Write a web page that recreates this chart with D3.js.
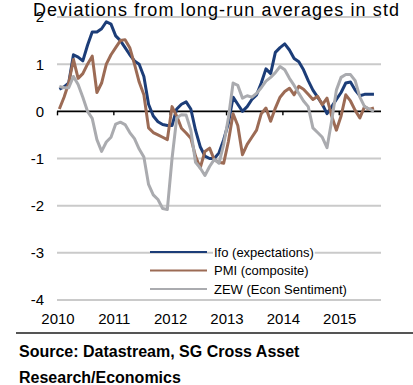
<!DOCTYPE html>
<html><head><meta charset="utf-8">
<script src="https://cdn.jsdelivr.net/npm/d3@7"></script>
<style>body{margin:0;background:#fff}svg{display:block}</style>
</head><body><div id="chart"></div>
<script>
const title = "Deviations from long-run averages in std";
const yearLabels = ["2010","2011","2012","2013","2014","2015"];
const yTicks = [2,1,0,-1,-2,-3,-4];
const seriesNames = ["Ifo (expectations)","PMI (composite)","ZEW (Econ Sentiment)"];
const seriesColors = ["#1c3d78","#9c6b55","#aaabaf"];
// monthly values, Jan 2010 .. Aug 2015
const ifo = [0.47,0.52,0.6,1.2,1.15,1.07,1.4,1.68,1.68,1.75,1.9,1.85,
  1.6,1.5,1.35,1.2,1.07,1.0,0.74,0.15,-0.1,-0.22,-0.28,-0.3,
  -0.3,0.05,0.15,0.2,0.05,-0.4,-0.75,-0.95,-1.0,-1.0,-0.88,-0.6,
  -0.25,0.3,0.15,0.0,0.1,0.25,0.35,0.6,0.9,0.8,1.25,1.35,
  1.43,1.3,1.12,1.05,0.88,0.65,0.45,0.3,0.15,-0.05,0.1,0.25,
  0.4,0.6,0.62,0.45,0.33,0.36,0.36,0.36];
const pmi = [0.05,0.3,0.6,1.1,0.7,0.8,1.0,1.17,0.4,0.6,1.0,1.2,
  1.35,1.5,1.52,1.35,1.0,0.62,0.35,-0.35,-0.45,-0.5,-0.55,-0.6,
  0.1,-0.1,-0.36,-0.46,-0.57,-0.95,-1.2,-0.85,-0.78,-1.03,-1.08,-1.1,
  -0.64,-0.05,-0.3,-0.92,-0.7,-0.55,-0.4,-0.05,0.07,-0.21,0.07,0.3,
  0.42,0.49,0.35,0.53,0.47,0.36,0.25,0.32,0.14,0.28,-0.1,-0.4,
  -0.1,0.35,0.22,0.02,-0.14,0.1,0.04,0.07];
const zew = [0.53,0.5,0.5,0.74,0.57,0.3,0.0,-0.15,-0.6,-0.85,-0.65,-0.55,
  -0.27,-0.23,-0.28,-0.45,-0.58,-0.8,-0.97,-1.55,-1.77,-1.87,-2.06,-2.08,
  -1.0,-0.14,-0.07,-0.08,-0.4,-1.08,-1.2,-1.36,-1.17,-1.02,-1.1,-0.7,
  -0.14,0.6,0.55,0.28,0.33,0.3,0.38,0.5,0.64,0.72,0.82,0.95,
  0.88,0.7,0.55,0.38,0.22,0.1,-0.35,-0.45,-0.55,-0.77,-0.2,0.45,
  0.72,0.78,0.78,0.65,0.3,0.1,0.05,0.0];
const series = [ifo, pmi, zew];

const W = 413, H = 385;
const svg = d3.select("#chart").append("svg").attr("width", W).attr("height", H);
const font = "Liberation Sans, Arial, sans-serif";

const x = d3.scaleLinear().domain([0, 69]).range([57, 381]);
const y = d3.scaleLinear().domain([-4, 2]).range([300, 17]);

// gridlines
svg.append("g").selectAll("line").data(yTicks.filter(d => d !== 0)).join("line")
  .attr("x1", x(0)).attr("x2", x(69))
  .attr("y1", d => y(d)).attr("y2", d => y(d))
  .attr("stroke", "#cacaca").attr("stroke-width", 2);

// y labels
svg.append("g").selectAll("text").data(yTicks).join("text")
  .attr("x", 44).attr("y", d => y(d)).attr("dy", "0.36em")
  .attr("text-anchor", "end").attr("font-family", font).attr("font-size", 15)
  .attr("fill", "#000").text(d => d);

// zero axis with ticks
const xAxis = d3.axisBottom(x).tickValues(d3.range(0, 61, 12)).tickSize(4).tickFormat("");
const ax = svg.append("g").attr("transform", `translate(0,${y(0)})`).call(xAxis);
ax.select(".domain").attr("stroke", "#000").attr("stroke-width", 1.6).attr("d", `M${x(0)},0H${x(69)}`);
ax.selectAll(".tick line").attr("stroke", "#000").attr("stroke-width", 1.4);

// x labels
svg.append("g").selectAll("text").data(yearLabels).join("text")
  .attr("x", (d, i) => x(i * 12) + 1).attr("y", 324)
  .attr("text-anchor", "middle").attr("font-family", font).attr("font-size", 15)
  .attr("fill", "#000").text(d => d);

// lines
const line = d3.line().x((d, i) => x(i + 0.5)).y(d => y(d));
svg.append("g").selectAll("path").data(series).join("path")
  .attr("d", line).attr("fill", "none")
  .attr("stroke", (d, i) => seriesColors[i]).attr("stroke-width", 3)
  .attr("stroke-linejoin", "round");

// legend
const lg = svg.append("g");
seriesNames.forEach((n, i) => {
  const ly = 252 + i * 18.5;
  const t = lg.append("text").attr("x", 214).attr("y", ly).attr("dy", "0.36em")
    .attr("font-family", font).attr("font-size", 13).attr("fill", "#000").text(n);
  const bb = t.node().getBBox();
  lg.insert("rect", "text").attr("x", bb.x - 1).attr("y", bb.y).attr("width", bb.width + 2)
    .attr("height", bb.height).attr("fill", "#fff");
  lg.append("line").attr("x1", 150).attr("x2", 207).attr("y1", ly).attr("y2", ly)
    .attr("stroke", seriesColors[i]).attr("stroke-width", 2);
});

// title
svg.append("text").attr("x", 33).attr("y", 16).attr("font-family", font)
  .attr("font-size", 18).attr("textLength", 366).attr("lengthAdjust", "spacing")
  .attr("fill", "#000").text(title);

// separator and source
svg.append("line").attr("x1", 16).attr("x2", 413).attr("y1", 333).attr("y2", 333)
  .attr("stroke", "#555").attr("stroke-width", 2);
svg.append("text").attr("x", 19).attr("y", 357).attr("font-family", font)
  .attr("font-size", 16).attr("font-weight", "bold").attr("fill", "#000")
  .text("Source: Datastream, SG Cross Asset");
svg.append("text").attr("x", 19).attr("y", 383).attr("font-family", font)
  .attr("font-size", 16).attr("font-weight", "bold").attr("fill", "#000")
  .text("Research/Economics");
</script></body></html>
